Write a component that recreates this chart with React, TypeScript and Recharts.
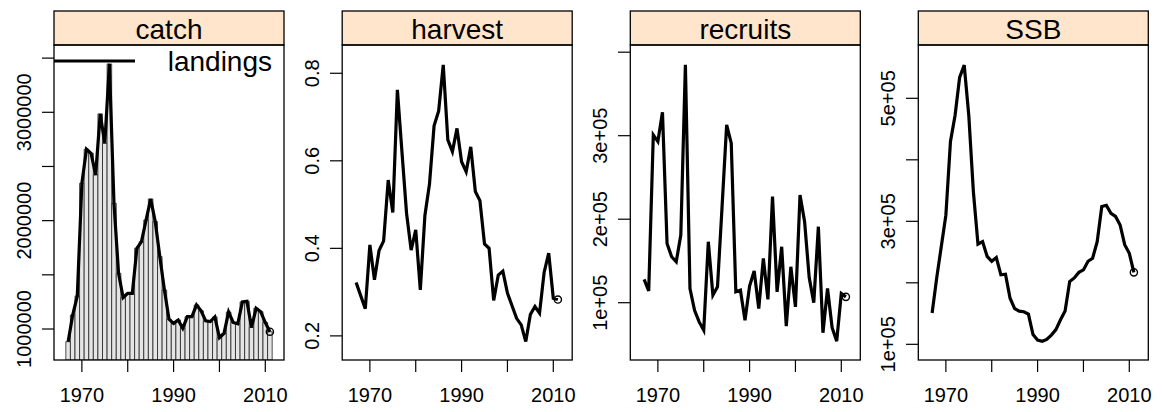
import React from "react";
import { ComposedChart, Bar, Line, XAxis, YAxis } from "recharts";

const FONT = '"Liberation Sans", Arial, Helvetica, sans-serif';

// years of the stock assessment
const years = [
  1967, 1968, 1969, 1970, 1971, 1972, 1973, 1974, 1975, 1976,
  1977, 1978, 1979, 1980, 1981, 1982, 1983, 1984, 1985, 1986,
  1987, 1988, 1989, 1990, 1991, 1992, 1993, 1994, 1995, 1996,
  1997, 1998, 1999, 2000, 2001, 2002, 2003, 2004, 2005, 2006,
  2007, 2008, 2009, 2010, 2011,
];

const catchValues = [
  883000, 1129000, 1305000, 2345000, 2659000, 2622000, 2422000, 2985000, 2714000, 3446000,
  2160000, 1514000, 1289000, 1329000, 1329000, 1745000, 1806000, 2006000, 2200000, 1991000,
  1668000, 1360000, 1090000, 1052000, 1083000, 1006000, 1114000, 1114000, 1222000, 1168000,
  1075000, 1068000, 1111000, 920000, 960000, 1157000, 1060000, 1048000, 1250000, 1255000,
  1014000, 1191000, 1160000, 1060000, 975000,
];

const landingsValues = [
  883000, 1129000, 1305000, 2345000, 2659000, 2622000, 2422000, 2985000, 2714000, 3446000,
  2160000, 1514000, 1289000, 1329000, 1329000, 1745000, 1806000, 2006000, 2200000, 1991000,
  1668000, 1360000, 1090000, 1052000, 1083000, 1006000, 1114000, 1114000, 1222000, 1168000,
  1075000, 1068000, 1111000, 920000, 960000, 1157000, 1060000, 1048000, 1250000, 1255000,
  1014000, 1191000, 1160000, 1060000, 975000,
];

const harvestValues = [
  0.322, 0.292, 0.262, 0.408, 0.328, 0.395, 0.417, 0.556, 0.482, 0.762,
  0.62, 0.48, 0.396, 0.442, 0.305, 0.475, 0.547, 0.68, 0.714, 0.819,
  0.648, 0.621, 0.674, 0.598, 0.575, 0.632, 0.53, 0.509, 0.41, 0.4,
  0.281, 0.339, 0.348, 0.298, 0.269, 0.24, 0.225, 0.187, 0.249, 0.267,
  0.252, 0.345, 0.389, 0.286, 0.283,
];

const recruitsValues = [
  128000, 114000, 301000, 293000, 328000, 171000, 155000, 149000, 181000, 385000,
  117000, 91000, 77000, 67000, 173000, 109000, 119000, 215000, 313000, 291000,
  113000, 115000, 79000, 120000, 138000, 93000, 153000, 104000, 227000, 113000,
  167000, 72000, 143000, 95000, 229000, 197000, 130000, 100000, 191000, 64000,
  117000, 70000, 54000, 111000, 107000,
];

const ssbValues = [
  151000, 208000, 259000, 310000, 430000, 472000, 534000, 554000, 472000, 348000,
  263000, 267000, 243000, 235000, 241000, 213000, 214000, 175000, 158000, 154000,
  153000, 149000, 116000, 107000, 105000, 108000, 115000, 124000, 140000, 154000,
  202000, 208000, 217000, 221000, 235000, 240000, 267000, 324000, 326000, 313000,
  308000, 294000, 262000, 248000, 217000,
];

// axis ticks and the labels lattice kept
const xTicks = [1970, 1980, 1990, 2000, 2010];
const xTickLabels = ["1970", "", "1990", "", "2010"];

const catchTicks = [1000000, 1500000, 2000000, 2500000, 3000000, 3500000];
const catchTickLabels = ["1000000", "", "2000000", "", "3000000", ""];
const harvestTicks = [0.2, 0.4, 0.6, 0.8];
const harvestTickLabels = ["0.2", "0.4", "0.6", "0.8"];
const recruitsTicks = [100000, 200000, 300000, 400000];
const recruitsTickLabels = ["1e+05", "2e+05", "3e+05", ""];
const ssbTicks = [100000, 200000, 300000, 400000, 500000];
const ssbTickLabels = ["1e+05", "", "3e+05", "", "5e+05"];

const rows = years.map((year, i) => ({
  year,
  catch: catchValues[i],
  landings: landingsValues[i],
  harvest: harvestValues[i],
  recruits: recruitsValues[i],
  ssb: ssbValues[i],
}));

// layout (lattice-like 1x4 panels)
const PANEL_W = 230;
const STRIP_TOP = 11;
const PANEL_TOP = 45;
const PANEL_BOTTOM = 360;
const Y_AXIS_W = 60;
const X_DOMAIN = [1963.92, 2014.08];

const XTick = ({ x, y, payload }: any) => {
  const idx = xTicks.indexOf(payload.value);
  const label = idx >= 0 ? xTickLabels[idx] : "";
  return (
    <text x={x} y={y + 28} textAnchor="middle" fontSize={20} fontFamily={FONT} fill="#000">
      {label}
    </text>
  );
};

const makeYTick = (ticks: number[], labels: string[]) => ({ x, y, payload }: any) => {
  const idx = ticks.indexOf(payload.value);
  const label = idx >= 0 ? labels[idx] : "";
  const bx = x - 9;
  return (
    <text
      x={bx}
      y={y}
      transform={`rotate(-90, ${bx}, ${y})`}
      textAnchor="middle"
      fontSize={20}
      fontFamily={FONT}
      fill="#000"
    >
      {label}
    </text>
  );
};

const lastDot = (props: any) => {
  const { cx, cy, index } = props;
  if (index !== rows.length - 1) return <g key={`d-${index}`} />;
  return <circle key={`d-${index}`} cx={cx} cy={cy} r={3.6} fill="none" stroke="#000" strokeWidth={1.4} />;
};

interface PanelProps {
  left: number;
  dataKey: string;
  domain: number[];
  ticks: number[];
  tickLabels: string[];
  withBars?: boolean;
}

function Panel({ left, dataKey, domain, ticks, tickLabels, withBars }: PanelProps) {
  const YTick = makeYTick(ticks, tickLabels);
  return (
    <div style={{ position: "absolute", left: left - Y_AXIS_W, top: 0 }}>
      <ComposedChart
        width={Y_AXIS_W + PANEL_W + 10}
        height={412}
        data={rows}
        margin={{ top: PANEL_TOP, right: 10, bottom: 0, left: 0 }}
        barCategoryGap={0}
        barGap={0}
      >
        <XAxis
          dataKey="year"
          type="number"
          domain={X_DOMAIN}
          ticks={xTicks}
          interval={0}
          allowDataOverflow
          height={412 - PANEL_BOTTOM}
          tickSize={12}
          axisLine={false}
          tickLine={{ stroke: "#000", strokeWidth: 1.2 }}
          tick={<XTick />}
        />
        <YAxis
          type="number"
          domain={domain}
          ticks={ticks}
          interval={0}
          allowDataOverflow
          width={Y_AXIS_W}
          tickSize={12}
          axisLine={false}
          tickLine={{ stroke: "#000", strokeWidth: 1.2 }}
          tick={<YTick />}
        />
        {withBars && (
          <Bar
            dataKey="landings"
            barSize={4.58}
            fill="#e5e5e5"
            stroke="#222"
            strokeWidth={0.8}
            isAnimationActive={false}
          />
        )}
        <Line
          type="linear"
          dataKey={dataKey}
          stroke="#000"
          strokeWidth={3.2}
          dot={lastDot}
          activeDot={false}
          isAnimationActive={false}
        />
      </ComposedChart>
    </div>
  );
}

const panels = [
  { title: "catch", left: 54, dataKey: "catch", domain: [714000, 3621000], ticks: catchTicks, tickLabels: catchTickLabels, withBars: true },
  { title: "harvest", left: 342.2, dataKey: "harvest", domain: [0.1449, 0.8646], ticks: harvestTicks, tickLabels: harvestTickLabels },
  { title: "recruits", left: 630.3, dataKey: "recruits", domain: [31400, 408600], ticks: recruitsTicks, tickLabels: recruitsTickLabels },
  { title: "SSB", left: 918.3, dataKey: "ssb", domain: [74500, 586700], ticks: ssbTicks, tickLabels: ssbTickLabels },
];

export default function App() {
  return (
    <div style={{ position: "absolute", left: 0, top: 0, width: 1163, height: 412, background: "#fff", overflow: "hidden" }}>
      {panels.map((p) => (
        <Panel key={p.title} {...p} />
      ))}
      {/* strips, panel frames and the key */}
      <svg width={1163} height={412} style={{ position: "absolute", left: 0, top: 0, pointerEvents: "none" }}>
        {panels.map((p) => (
          <g key={p.title}>
            <rect x={p.left} y={STRIP_TOP} width={PANEL_W} height={PANEL_TOP - STRIP_TOP} fill="#ffe5cc" stroke="#000" strokeWidth={1.3} />
            <text x={p.left + PANEL_W / 2} y={39} textAnchor="middle" fontSize={28} fontFamily={FONT} fill="#000">
              {p.title}
            </text>
            <rect x={p.left} y={PANEL_TOP} width={PANEL_W} height={PANEL_BOTTOM - PANEL_TOP} fill="none" stroke="#000" strokeWidth={1.3} />
          </g>
        ))}
        <line x1={54} y1={61} x2={135} y2={61} stroke="#000" strokeWidth={3.2} />
        <text x={272} y={71} textAnchor="end" fontSize={28} fontFamily={FONT} fill="#000">
          landings
        </text>
      </svg>
    </div>
  );
}
